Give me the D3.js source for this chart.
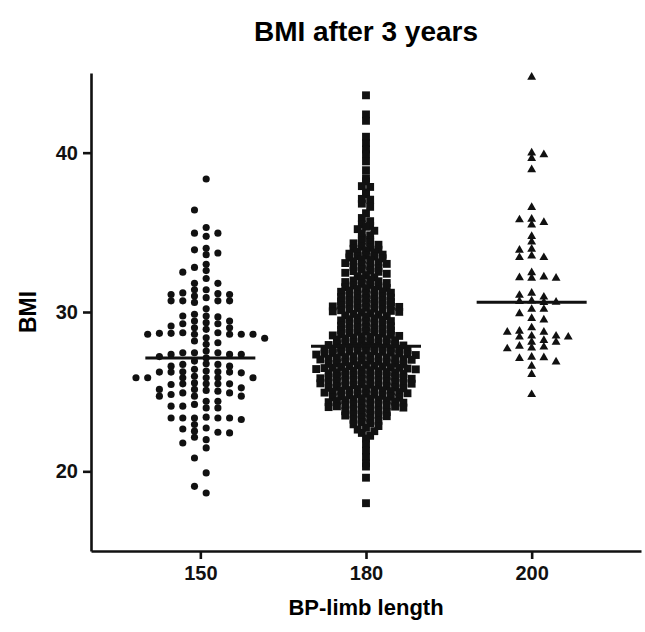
<!DOCTYPE html>
<html>
<head>
<meta charset="utf-8">
<script src="https://cdn.jsdelivr.net/npm/d3@7"></script>
<style>
  body { margin: 0; background: #fff; }
  svg { font-family: "Liberation Sans", Arial, sans-serif; }
</style>
</head>
<body>
<div id="chart"></div>
<script>
// values
const groups = ["150", "180", "200"];
const yTicks = [20, 30, 40];
const titleText = "BMI after 3 years";
const xLabel = "BP-limb length";
const yLabel = "BMI";

const bmi150 = [
  38.35, 36.4, 35.3, 34.95, 34.95, 34.75, 34.0, 33.9, 33.7, 33.6, 33.0, 32.8, 32.6, 32.5, 32.1, 31.8,
  31.8, 31.4, 31.4, 31.2, 31.15, 31.1, 31.1, 31.0, 30.9, 30.7, 30.7, 30.7, 30.7, 30.6, 30.2,
  29.86, 29.75, 29.75, 29.69, 29.43, 29.43, 29.33, 29.26, 29.26, 29.12,
  29.01, 29.01, 28.91, 28.7, 28.7, 28.66, 28.66, 28.6, 28.6, 28.6,
  28.6, 28.6, 28.38, 28.35, 28.18, 28.07, 27.97, 27.55, 27.44, 27.44,
  27.44, 27.34, 27.34, 27.34, 27.2,
  27.12, 26.92, 26.75, 26.71, 26.71, 26.6, 26.6, 26.4, 26.29, 26.25,
  26.25, 26.23, 26.23, 26.23, 26.18, 25.97, 25.87, 25.87, 25.87, 25.87,
  25.87, 25.87, 25.55, 25.49, 25.49, 25.49, 25.49, 25.45, 25.24, 25.14,
  25.14, 25.08, 25.03, 24.92, 24.92, 24.82, 24.72, 24.72, 24.72, 24.4,
  24.4, 24.2, 24.09, 24.09, 23.98, 23.98, 23.4, 23.35, 23.35, 23.35,
  23.35, 23.35, 23.25, 22.94, 22.72, 22.66, 22.52, 22.45, 22.41, 22.14,
  21.99, 21.78, 21.47, 20.84, 19.9, 19.06, 18.64
];

const bmi180 = [
  43.6, 42.4, 42.0, 41.0, 40.6, 40.2, 39.9, 39.45, 38.9, 38.4, 38.2, 37.9, 37.85, 37.5, 37.4,
  37.1, 37.05, 36.8, 36.6, 36.2, 35.9, 35.7, 35.5, 35.4, 35.35, 35.2, 35.1,
  34.92, 34.81, 34.63, 34.52,
  34.47, 34.38, 34.31, 34.22, 34.1, 34.03,
  33.97, 33.91, 33.86, 33.78, 33.74, 33.66, 33.6, 33.55, 33.51,
  33.48, 33.42, 33.37, 33.3, 33.26, 33.18, 33.12, 33.07, 33.02,
  32.96, 32.88, 32.83, 32.76, 32.69, 32.61, 32.57, 32.52,
  32.46, 32.4, 32.31, 32.24, 32.17, 32.09, 32.02,
  31.98, 31.93, 31.88, 31.82, 31.77, 31.7, 31.66, 31.61, 31.56, 31.51,
  31.49, 31.44, 31.4, 31.35, 31.3, 31.27, 31.21, 31.16, 31.1, 31.06, 31.01,
  30.98, 30.94, 30.9, 30.86, 30.83, 30.79, 30.74, 30.7, 30.66, 30.62, 30.58, 30.54, 30.51,
  30.48, 30.45, 30.42, 30.38, 30.35, 30.32, 30.28, 30.25, 30.21, 30.18, 30.14, 30.11, 30.07, 30.04, 30.01,
  29.97, 29.92, 29.88, 29.83, 29.78, 29.74, 29.69, 29.64, 29.6, 29.55, 29.51,
  29.47, 29.43, 29.38, 29.33, 29.29, 29.24, 29.19, 29.14, 29.1, 29.05, 29.01,
  28.98, 28.94, 28.91, 28.87, 28.83, 28.79, 28.76, 28.72, 28.68, 28.64, 28.61, 28.57, 28.53, 28.5,
  28.47, 28.44, 28.4, 28.37, 28.33, 28.29, 28.26, 28.22, 28.18, 28.15, 28.11, 28.08, 28.04, 28.01,
  27.98, 27.96, 27.93, 27.9, 27.88, 27.85, 27.83, 27.8, 27.77, 27.75, 27.72, 27.69, 27.67, 27.64,
  27.62, 27.59, 27.57, 27.54, 27.52, 27.5,
  27.48, 27.46, 27.43, 27.4, 27.38, 27.35, 27.33, 27.3, 27.27, 27.25, 27.22, 27.19, 27.17, 27.14,
  27.12, 27.09, 27.07, 27.04, 27.02, 27.0,
  26.97, 26.95, 26.91, 26.88, 26.86, 26.83, 26.79, 26.77, 26.74, 26.71, 26.68, 26.66, 26.63, 26.6,
  26.58, 26.55, 26.53, 26.51, 26.5,
  26.48, 26.45, 26.42, 26.4, 26.37, 26.34, 26.31, 26.29, 26.26, 26.23, 26.2, 26.18, 26.15, 26.12,
  26.09, 26.07, 26.04, 26.02, 26.0,
  25.98, 25.95, 25.93, 25.9, 25.87, 25.84, 25.81, 25.79, 25.76, 25.73, 25.7, 25.68, 25.65, 25.62,
  25.6, 25.57, 25.55, 25.52, 25.5,
  25.47, 25.44, 25.41, 25.38, 25.36, 25.33, 25.3, 25.27, 25.24, 25.21, 25.19, 25.16, 25.13, 25.1,
  25.08, 25.05, 25.03, 25.0,
  24.97, 24.94, 24.9, 24.87, 24.84, 24.81, 24.77, 24.74, 24.71, 24.68, 24.65, 24.62, 24.58, 24.56,
  24.53, 24.5,
  24.47, 24.44, 24.41, 24.37, 24.34, 24.31, 24.27, 24.24, 24.21, 24.18, 24.15, 24.12, 24.08, 24.06,
  24.03, 24.0,
  23.96, 23.91, 23.86, 23.82, 23.77, 23.72, 23.67, 23.63, 23.58, 23.54, 23.5,
  23.46, 23.39, 23.31, 23.24, 23.17, 23.09, 23.02,
  22.95, 22.84, 22.73, 22.62, 22.52, 22.41, 22.23, 22.06,
  21.7, 21.3, 20.9, 20.5, 20.3, 19.6, 18.0
];

const bmi200 = [
  44.74, 39.98, 39.87, 39.64, 38.93, 36.56, 35.83, 35.79, 35.62, 35.47, 34.74, 34.4, 33.94, 33.88,
  33.52, 33.42, 33.42,
  32.47, 32.2, 32.16, 32.12, 32.12, 31.18, 31.05, 30.94, 30.7, 30.66,
  30.62, 30.6, 30.17, 30.17, 29.9, 29.6, 29.5, 29.01, 28.8, 28.74,
  28.74, 28.49, 28.49, 28.43, 28.43, 28.22, 28.11, 28.11, 27.86, 27.8,
  27.75, 27.69, 27.17, 27.13, 27.09, 26.87, 26.6, 26.08, 24.82
];

const width = 645;
const height = 632;

const svg = d3.select("#chart")
    .append("svg")
    .attr("width", width)
    .attr("height", height);

const x = d3.scalePoint()
    .domain(groups)
    .range([91, 641])
    .padding(0.66);

const y = d3.scaleLinear()
    .domain([15, 45])
    .range([551, 73]);

// title
svg.append("text")
    .attr("x", 366)
    .attr("y", 41)
    .attr("text-anchor", "middle")
    .attr("font-size", 28)
    .attr("font-weight", "bold")
    .text(titleText);

// axes
const yAxis = svg.append("g")
    .attr("transform", "translate(91,0)")
    .call(d3.axisLeft(y).tickValues(yTicks).tickSize(8).tickSizeOuter(0).tickPadding(5));

const xAxis = svg.append("g")
    .attr("transform", "translate(0,551)")
    .call(d3.axisBottom(x).tickSize(8).tickSizeOuter(0).tickPadding(7));

[yAxis, xAxis].forEach(function (g) {
    g.select(".domain").attr("stroke-width", 2.6).attr("stroke", "#111");
    g.selectAll(".tick line").attr("stroke-width", 2.6).attr("stroke", "#111");
    g.selectAll(".tick text")
        .attr("font-size", 20)
        .attr("font-weight", "bold")
        .attr("fill", "#111")
        .attr("font-family", "Liberation Sans, Arial, sans-serif");
});

svg.append("text")
    .attr("transform", "translate(36,312) rotate(-90)")
    .attr("text-anchor", "middle")
    .attr("font-size", 23)
    .attr("font-weight", "bold")
    .text(yLabel);

svg.append("text")
    .attr("x", 366)
    .attr("y", 615)
    .attr("text-anchor", "middle")
    .attr("font-size", 22)
    .attr("font-weight", "bold")
    .text(xLabel);

// column swarm: each point goes into the nearest free column slot
function swarm(values, cx, dx, minDy, half) {
    const pts = values.map(v => ({ v: v, py: y(v) })).sort((a, b) => a.py - b.py);
    const lastY = new Map();
    let flip = false;
    pts.forEach(function (p) {
        for (let i = 0; i < 40; i++) {
            let slots;
            if (half) slots = flip ? [-(i + 0.5), i + 0.5] : [i + 0.5, -(i + 0.5)];
            else if (i === 0) slots = [0];
            else slots = flip ? [-i, i] : [i, -i];
            let done = false;
            for (const k of slots) {
                const ly = lastY.get(k);
                if (ly === undefined || p.py - ly >= minDy) {
                    p.px = cx + k * dx;
                    lastY.set(k, p.py);
                    if (k !== 0) flip = !flip;
                    done = true;
                    break;
                }
            }
            if (done) break;
        }
    });
    return pts;
}

// row swarm: points binned by value, each bin spread side by side from the centre out
function rowSwarm(values, cx, dx, binH) {
    const bins = d3.groups(values, v => Math.floor((v - 15) / binH));
    const pts = [];
    bins.forEach(function ([, vals]) {
        const sorted = vals.slice().sort((a, b) => b - a);
        const n = sorted.length;
        const slots = d3.range(n).map(i => i - (n - 1) / 2)
            .sort((a, b) => Math.abs(a) - Math.abs(b) || a - b);
        sorted.forEach(function (v, i) {
            pts.push({ v: v, py: y(v), px: cx + slots[i] * dx });
        });
    });
    return pts;
}

const series = [
    { key: "150", values: bmi150, symbol: d3.symbolCircle, size: 40 },
    { key: "180", values: bmi180, symbol: d3.symbolSquare, size: 62 },
    { key: "200", values: bmi200, symbol: d3.symbolTriangle, size: 34 }
];

series.forEach(function (s) {
    let pts;
    if (s.key === "150") pts = swarm(s.values, x(s.key), 11.7, 5.8, true);
    else if (s.key === "180") pts = rowSwarm(s.values, x(s.key), 8.3, 0.3);
    else pts = swarm(s.values, x(s.key), 12.2, 5.2, false);

    svg.append("g")
        .selectAll("path")
        .data(pts)
        .enter().append("path")
        .attr("transform", d => "translate(" + d.px + "," + d.py + ")")
        .attr("d", d3.symbol().type(s.symbol).size(s.size))
        .attr("fill", "#111");

    const med = d3.median(s.values);
    svg.append("line")
        .attr("x1", x(s.key) - 55)
        .attr("x2", x(s.key) + 55)
        .attr("y1", y(med))
        .attr("y2", y(med))
        .attr("stroke", "#111")
        .attr("stroke-width", 3);
});
</script>
</body>
</html>
